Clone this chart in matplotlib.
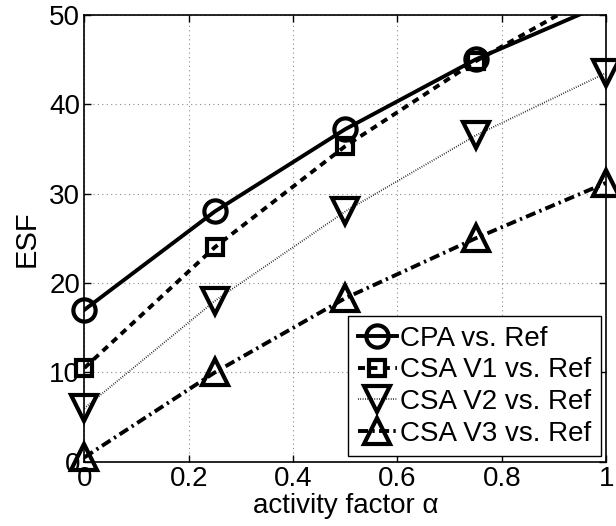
import matplotlib

matplotlib.use("Agg")
import matplotlib.pyplot as plt
from matplotlib.lines import Line2D
import numpy as np

plt.rcParams["font.family"] = ["Liberation Sans", "DejaVu Sans"]

# activity factor values on the x axis
alpha = [0.0, 0.25, 0.5, 0.75, 1.0]

cpa = [17.0, 28.0, 37.2, 45.0, 51.3]
csa_v1 = [10.5, 24.0, 35.3, 44.8, 53.0]
csa_v2 = [6.0, 18.0, 28.0, 36.5, 43.5]
csa_v3 = [0.5, 10.0, 18.3, 25.0, 31.2]

labels = ["CPA vs. Ref", "CSA V1 vs. Ref", "CSA V2 vs. Ref", "CSA V3 vs. Ref"]
series = [cpa, csa_v1, csa_v2, csa_v3]
styles = [
    ("-", "o", 2.8),
    ((0, (1.8, 1.4)), "s", 2.8),
    ((0, (0.4, 0.9)), "v", 1.3),
    ((0, (2.6, 1.1, 0.6, 1.1)), "^", 2.8),
]
marker_sizes = [16, 12, 19, 19]

fig = plt.figure(figsize=(6.16, 5.26), dpi=100)
ax = fig.add_axes([0.137, 0.122, 0.847, 0.85])

handles = []
for values, (ls, mk, lw), ms, label in zip(series, styles, marker_sizes, labels):
    y = np.asarray(values)
    x = np.asarray(alpha)
    ax.plot(x, y, color="black", linestyle=ls, linewidth=lw)
    # markers past the top of the axes are not shown, those on the edges are
    inside = y <= 50
    ax.plot(x[inside], y[inside], linestyle="none", marker=mk, markersize=ms,
            markerfacecolor="none", markeredgecolor="black", markeredgewidth=3.0,
            clip_on=False, zorder=5)
    handles.append(Line2D([], [], color="black", linestyle=ls, linewidth=lw,
                          marker=mk, markersize=ms if mk != "s" else 11,
                          markerfacecolor="none", markeredgecolor="black",
                          markeredgewidth=3.0))

ax.set_xlim(0, 1)
ax.set_ylim(0, 50)
ax.set_xticks([0, 0.2, 0.4, 0.6, 0.8, 1])
ax.set_xticklabels(["0", "0.2", "0.4", "0.6", "0.8", "1"])
ax.set_yticks([0, 10, 20, 30, 40, 50])
ax.tick_params(direction="in", labelsize=20, length=5, width=1,
               top=True, right=True, pad=3)
ax.grid(True, linestyle=(0, (1, 3)), color="0.55", linewidth=0.8)
for spine in ax.spines.values():
    spine.set_linewidth(1.2)

ax.set_xlabel("activity factor α", fontsize=20, labelpad=1)
ax.set_ylabel("ESF", fontsize=21, labelpad=6)

leg = ax.legend(handles, labels, loc="lower right", fontsize=20, frameon=True,
                fancybox=False, edgecolor="black", framealpha=1,
                handlelength=1.4, handletextpad=0.1, borderpad=0.35,
                labelspacing=0.2, borderaxespad=0.2)
leg.get_frame().set_linewidth(1.0)

fig.savefig("out.png", dpi=100)
